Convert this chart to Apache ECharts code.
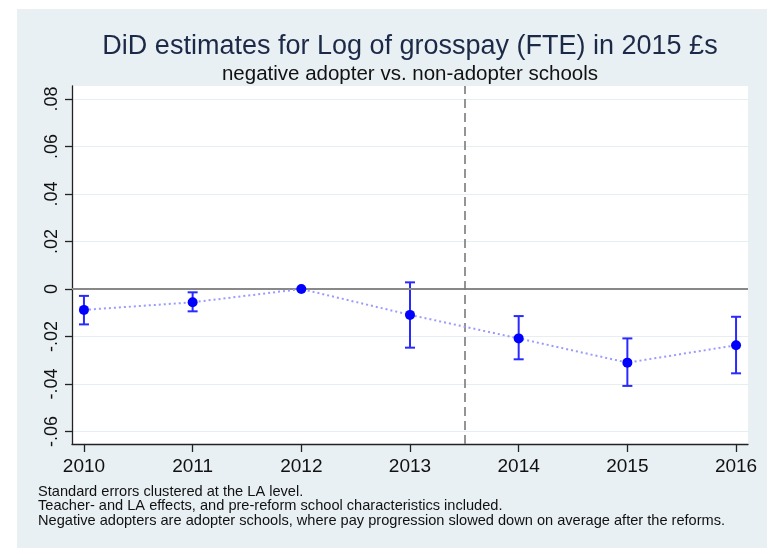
<!DOCTYPE html>
<html>
<head>
<meta charset="utf-8">
<title>DiD estimates</title>
<script src="https://cdn.jsdelivr.net/npm/echarts@6/dist/echarts.min.js"></script>
<style>
  html, body { margin: 0; padding: 0; background: #ffffff; }
  #chart { width: 775px; height: 548px; }
</style>
</head>
<body>
<div id="chart"></div>
<script>
// values
var years = [2010, 2011, 2012, 2013, 2014, 2015, 2016];
var estimates = [-0.0088, -0.0056, 0, -0.0109, -0.0208, -0.0310, -0.0237];
var ciLower = [-0.0149, -0.0094, 0, -0.0247, -0.0296, -0.0408, -0.0355];
var ciUpper = [-0.0029, -0.0014, 0, 0.0028, -0.0114, -0.0208, -0.0117];
var yTicks = [-0.06, -0.04, -0.02, 0, 0.02, 0.04, 0.06, 0.08];
var reformLine = 2013.5;
var notes = [
    'Standard errors clustered at the LA level.',
    'Teacher- and LA effects, and pre-reform school characteristics included.',
    'Negative adopters are adopter schools, where pay progression slowed down on average after the reforms.'
];

var FONT = '"Liberation Sans", Arial, sans-serif';
var chart = echarts.init(document.getElementById('chart'));

function stataLabel(v) {
    var r = Math.round(v * 100);
    if (r === 0) return '0';
    var s = String(Math.abs(r));
    if (s.length < 2) s = '0' + s;
    return (r < 0 ? '-' : '') + '.' + s;
}

var pointData = years.map(function (y, i) { return [y, estimates[i]]; });
var barData = years.map(function (y, i) { return [y, ciLower[i], ciUpper[i]]; });

var option = {
    backgroundColor: '#ffffff',
    animation: false,
    textStyle: { fontFamily: FONT },
    graphic: [
        {
            type: 'rect', z: -10, silent: true,
            shape: { x: 17, y: 9, width: 750, height: 539 },
            style: { fill: '#e8f0f3' }
        }
    ].concat(notes.map(function (t, i) {
        return {
            type: 'text', silent: true,
            left: 38, top: 484 + i * 14.5,
            style: { text: t, fill: '#111111', font: '14.6px ' + FONT }
        };
    })),
    title: [
        {
            text: 'DiD estimates for Log of grosspay (FTE) in 2015 £s',
            left: 410, top: 33, textAlign: 'center', padding: 0,
            textStyle: { color: '#1c2a48', fontSize: 27, fontWeight: 'normal', fontFamily: FONT }
        },
        {
            text: 'negative adopter vs. non-adopter schools',
            left: 410, top: 64, textAlign: 'center', padding: 0,
            textStyle: { color: '#111111', fontSize: 20.5, fontWeight: 'normal', fontFamily: FONT }
        }
    ],
    grid: {
        left: 72, right: 27, top: 86, bottom: 104,
        show: true, backgroundColor: '#ffffff', borderWidth: 0
    },
    xAxis: {
        type: 'value',
        min: 2009.89, max: 2016.11,
        axisLine: { show: true, onZero: false, lineStyle: { color: '#222222', width: 1.3 } },
        axisTick: { show: true, length: 8, customValues: years, lineStyle: { color: '#222222', width: 1.3 } },
        axisLabel: {
            customValues: years, margin: 13,
            color: '#111111', fontSize: 19, fontFamily: FONT,
            formatter: function (v) { return String(v); }
        },
        splitLine: { show: false }
    },
    yAxis: {
        type: 'value',
        min: -0.06526, max: 0.08547,
        minInterval: 0.02, maxInterval: 0.02,
        axisLine: { show: true, lineStyle: { color: '#222222', width: 1.3 } },
        axisTick: { show: true, length: 7, customValues: yTicks, lineStyle: { color: '#222222', width: 1.3 } },
        axisLabel: {
            customValues: yTicks, rotate: 90, margin: 11,
            color: '#111111', fontSize: 18, fontFamily: FONT,
            formatter: stataLabel
        },
        splitLine: { show: true, lineStyle: { color: '#e6eef1', width: 1 } }
    },
    series: [
        {
            type: 'line',
            data: pointData,
            symbol: 'circle',
            symbolSize: 10,
            z: 5,
            itemStyle: { color: '#0000ff' },
            lineStyle: { color: '#9a9aff', width: 2, type: [2, 3] },
            markLine: {
                silent: true,
                symbol: ['none', 'none'],
                label: { show: false },
                data: [
                    { yAxis: 0, lineStyle: { color: '#888888', width: 2, type: 'solid' } },
                    { xAxis: reformLine, lineStyle: { color: '#7a7a7a', width: 1.6, type: [9, 5] } }
                ]
            }
        },
        {
            type: 'custom',
            data: barData,
            z: 4,
            renderItem: function (params, api) {
                var x = api.value(0);
                var lo = api.coord([x, api.value(1)]);
                var hi = api.coord([x, api.value(2)]);
                var half = 5;
                var style = { stroke: '#2a2aff', lineWidth: 2, fill: null };
                return {
                    type: 'group',
                    children: [
                        { type: 'line', shape: { x1: lo[0], y1: lo[1], x2: hi[0], y2: hi[1] }, style: style },
                        { type: 'line', shape: { x1: lo[0] - half, y1: lo[1], x2: lo[0] + half, y2: lo[1] }, style: style },
                        { type: 'line', shape: { x1: hi[0] - half, y1: hi[1], x2: hi[0] + half, y2: hi[1] }, style: style }
                    ]
                };
            }
        }
    ]
};

chart.setOption(option);
</script>
</body>
</html>
